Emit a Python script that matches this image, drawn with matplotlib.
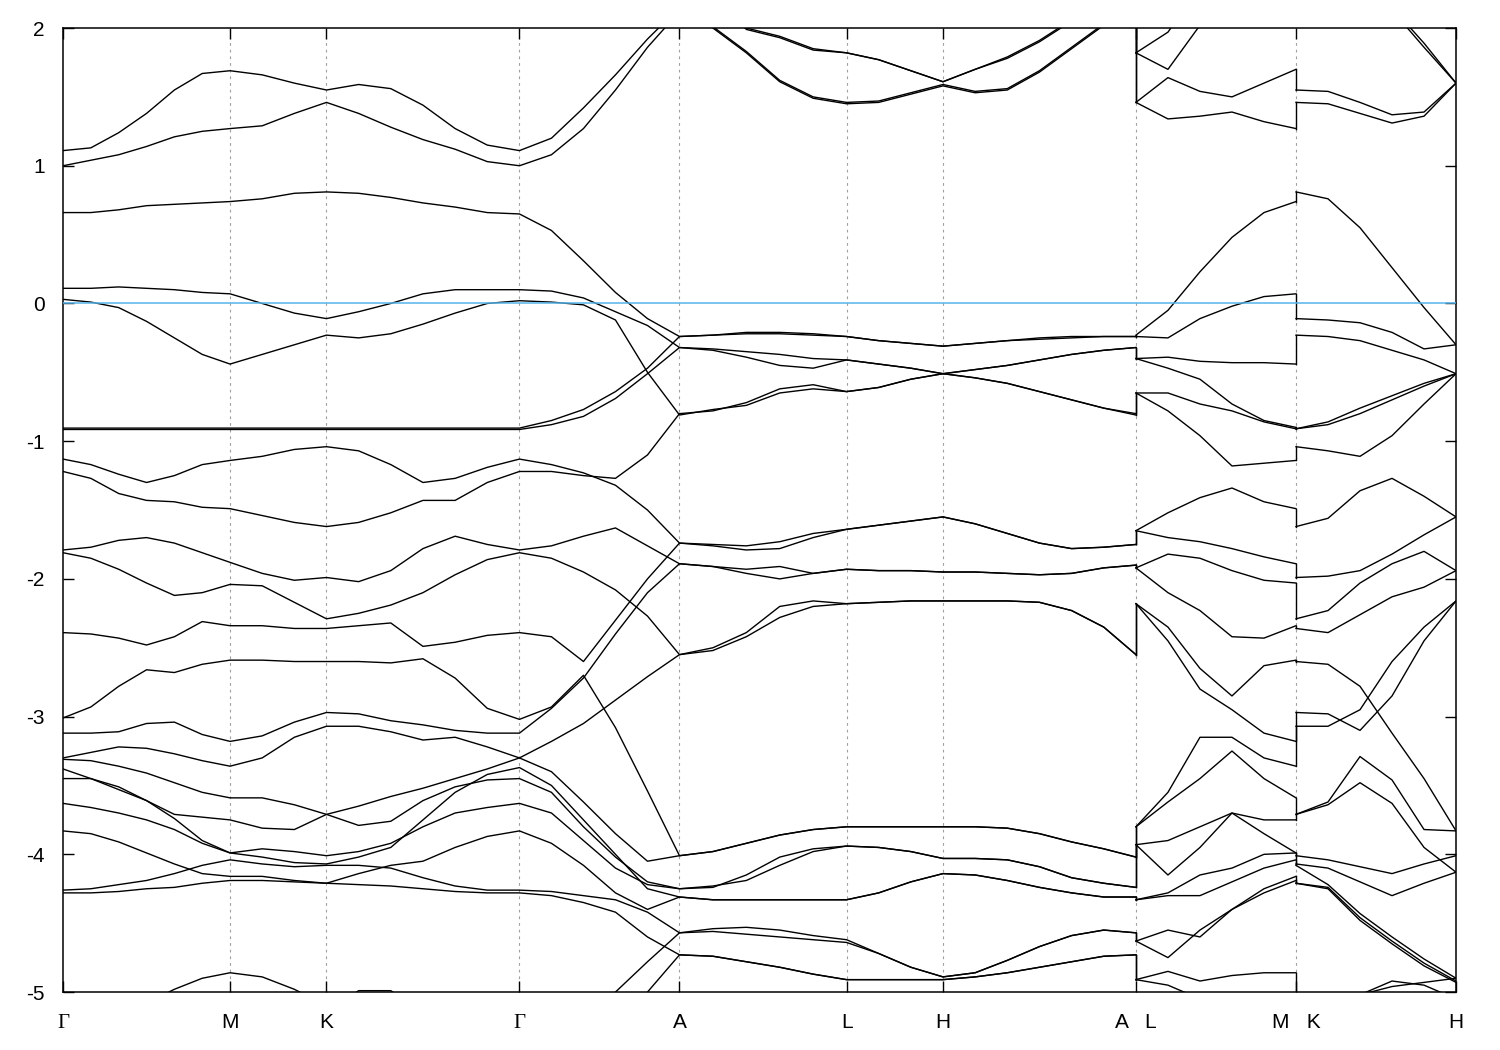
import numpy as np
import matplotlib
matplotlib.use("Agg")
import matplotlib.pyplot as plt

# k-path: segment lengths (Gamma-M = 1) and number of sampled steps per segment
seg_len = [1.0, 0.577, 1.155, 0.958, 1.0, 0.577, 1.155]   # G-M-K-G-A-L-H-A
seg_steps = [6, 3, 6, 5, 5, 3, 6]
lm_len, lm_steps = 0.958, 5     # L-M
kh_len, kh_steps = 0.958, 5     # K-H

tick_names = ["Γ", "M", "K", "Γ", "A", "L", "H", "A   L", "M   K", "H"]

# energies (eV): 35 points on G..A, then 6 on L-M, then 6 on K-H
band_T1 = [2.60, 2.60, 2.60, 2.60, 2.60, 2.60, 2.60, 2.60, 2.60, 2.60, 2.60, 2.60, 2.60, 2.60, 2.60, 2.60,
           2.60, 2.60, 2.60, 2.60, 2.50, 2.25, 1.99, 1.93, 1.84, 1.82, 1.77, 1.69, 1.61,
           1.70, 1.78, 1.90, 2.05, 2.20, 2.40,
           1.82, 1.97, 2.30, 2.50, 2.60, 2.60,
           2.60, 2.50, 2.40, 2.15, 1.89, 1.60]
band_T2 = [2.70, 2.70, 2.70, 2.70, 2.70, 2.70, 2.70, 2.70, 2.70, 2.70, 2.70, 2.70, 2.70, 2.70, 2.70, 2.70,
           2.70, 2.70, 2.70, 2.65, 2.55, 2.27, 2.00, 1.94, 1.85, 1.82, 1.77, 1.69, 1.61,
           1.70, 1.79, 1.91, 2.06, 2.21, 2.45,
           1.82, 1.70, 2.02, 2.30, 2.50, 2.65,
           2.65, 2.55, 2.40, 2.13, 1.86, 1.60]
band_U1 = [1.11, 1.13, 1.24, 1.38, 1.55, 1.67, 1.69, 1.66, 1.60, 1.55, 1.59, 1.56, 1.44, 1.27, 1.15, 1.11,
           1.20, 1.42, 1.66, 1.92, 2.15, 2.01, 1.83, 1.62, 1.50, 1.46, 1.47, 1.53, 1.59,
           1.54, 1.56, 1.69, 1.86, 2.03, 2.20,
           1.46, 1.64, 1.54, 1.50, 1.60, 1.70,
           1.55, 1.54, 1.46, 1.37, 1.39, 1.60]
band_U2 = [1.00, 1.04, 1.08, 1.14, 1.21, 1.25, 1.27, 1.29, 1.38, 1.46, 1.38, 1.28, 1.19, 1.12, 1.03, 1.00,
           1.08, 1.27, 1.55, 1.86, 2.12, 2.00, 1.82, 1.61, 1.49, 1.45, 1.46, 1.52, 1.58,
           1.53, 1.55, 1.68, 1.85, 2.02, 2.20,
           1.46, 1.34, 1.36, 1.39, 1.32, 1.27,
           1.46, 1.45, 1.38, 1.31, 1.36, 1.60]
band_U3 = [0.66, 0.66, 0.68, 0.71, 0.72, 0.73, 0.74, 0.76, 0.80, 0.81, 0.80, 0.77, 0.73, 0.70, 0.66, 0.65,
           0.53, 0.31, 0.08, -0.11, -0.24, -0.23, -0.21, -0.21, -0.22, -0.24, -0.27, -0.29, -0.31,
           -0.29, -0.27, -0.25, -0.24, -0.24, -0.24,
           -0.23, -0.05, 0.23, 0.48, 0.66, 0.74,
           0.81, 0.76, 0.55, 0.26, -0.03, -0.30]
band_U4 = [0.11, 0.11, 0.12, 0.11, 0.10, 0.08, 0.07, 0.00, -0.07, -0.11, -0.06, 0.00, 0.07, 0.10, 0.10, 0.10,
           0.09, 0.04, -0.06, -0.16, -0.32, -0.33, -0.35, -0.37, -0.40, -0.41, -0.44, -0.47, -0.51,
           -0.54, -0.58, -0.64, -0.70, -0.76, -0.81,
           -0.24, -0.25, -0.11, -0.02, 0.05, 0.07,
           -0.11, -0.12, -0.14, -0.21, -0.33, -0.30]
band_U5 = [0.03, 0.01, -0.03, -0.13, -0.25, -0.37, -0.44, -0.37, -0.30, -0.23, -0.25, -0.22, -0.15, -0.07, 0.00, 0.02,
           0.01, -0.01, -0.12, -0.50, -0.81, -0.77, -0.74, -0.65, -0.62, -0.64, -0.61, -0.55, -0.51,
           -0.48, -0.45, -0.41, -0.37, -0.34, -0.32,
           -0.40, -0.39, -0.42, -0.43, -0.43, -0.44,
           -0.23, -0.24, -0.27, -0.34, -0.41, -0.51]
band_F1 = [-0.905, -0.905, -0.905, -0.905, -0.905, -0.905, -0.905, -0.905, -0.905, -0.905, -0.905, -0.905,
           -0.905, -0.905, -0.905, -0.905,
           -0.85, -0.77, -0.64, -0.47, -0.24, -0.23, -0.22, -0.22, -0.23, -0.24, -0.27, -0.29, -0.31,
           -0.29, -0.27, -0.26, -0.25, -0.24, -0.24,
           -0.40, -0.47, -0.55, -0.73, -0.85, -0.90,
           -0.91, -0.88, -0.80, -0.70, -0.60, -0.51]
band_F2 = [-0.915, -0.915, -0.915, -0.915, -0.915, -0.915, -0.915, -0.915, -0.915, -0.915, -0.915, -0.915,
           -0.915, -0.915, -0.915, -0.915,
           -0.88, -0.82, -0.69, -0.51, -0.32, -0.34, -0.39, -0.45, -0.47, -0.41, -0.44, -0.47, -0.51,
           -0.54, -0.58, -0.64, -0.70, -0.76, -0.80,
           -0.65, -0.65, -0.73, -0.78, -0.86, -0.91,
           -0.91, -0.86, -0.76, -0.67, -0.58, -0.51]
band_08 = [-1.13, -1.17, -1.24, -1.30, -1.25, -1.17, -1.14, -1.11, -1.06, -1.04, -1.07, -1.17, -1.30, -1.27, -1.19, -1.13,
           -1.17, -1.23, -1.32, -1.50, -1.74, -1.76, -1.79, -1.78, -1.70, -1.64, -1.61, -1.58, -1.55,
           -1.60, -1.67, -1.74, -1.78, -1.77, -1.75,
           -0.65, -0.78, -0.96, -1.18, -1.16, -1.14,
           -1.04, -1.07, -1.11, -0.96, -0.73, -0.51]
band_09 = [-1.22, -1.27, -1.38, -1.43, -1.44, -1.48, -1.49, -1.54, -1.59, -1.62, -1.59, -1.52, -1.43, -1.43, -1.30, -1.22,
           -1.22, -1.25, -1.27, -1.10, -0.80, -0.78, -0.72, -0.62, -0.59, -0.64, -0.61, -0.55, -0.51,
           -0.48, -0.45, -0.41, -0.37, -0.34, -0.32,
           -1.65, -1.52, -1.41, -1.34, -1.44, -1.49,
           -1.62, -1.56, -1.36, -1.27, -1.40, -1.55]
band_10 = [-1.79, -1.77, -1.72, -1.70, -1.74, -1.81, -1.88, -1.96, -2.01, -1.99, -2.02, -1.94, -1.78, -1.69, -1.75, -1.79,
           -1.76, -1.69, -1.63, -1.76, -1.89, -1.91, -1.96, -2.00, -1.96, -1.93, -1.94, -1.94, -1.95,
           -1.95, -1.96, -1.97, -1.96, -1.92, -1.90,
           -1.65, -1.70, -1.73, -1.78, -1.84, -1.89,
           -1.99, -1.98, -1.94, -1.82, -1.68, -1.55]
band_11 = [-1.81, -1.85, -1.93, -2.03, -2.12, -2.10, -2.04, -2.05, -2.17, -2.29, -2.25, -2.19, -2.10, -1.97, -1.86, -1.81,
           -1.85, -1.95, -2.08, -2.27, -2.55, -2.52, -2.42, -2.28, -2.20, -2.18, -2.17, -2.16, -2.16,
           -2.16, -2.16, -2.17, -2.23, -2.35, -2.55,
           -1.92, -1.82, -1.85, -1.94, -2.01, -2.03,
           -2.29, -2.23, -2.03, -1.89, -1.80, -1.94]
band_12 = [-2.39, -2.40, -2.43, -2.48, -2.42, -2.31, -2.34, -2.34, -2.36, -2.36, -2.34, -2.32, -2.49, -2.46, -2.41, -2.39,
           -2.42, -2.60, -2.30, -2.00, -1.74, -1.75, -1.76, -1.73, -1.67, -1.64, -1.61, -1.58, -1.55,
           -1.60, -1.67, -1.74, -1.78, -1.77, -1.75,
           -1.92, -2.10, -2.23, -2.42, -2.43, -2.34,
           -2.36, -2.39, -2.26, -2.13, -2.06, -1.94]
band_13 = [-3.01, -2.93, -2.78, -2.66, -2.68, -2.62, -2.59, -2.59, -2.60, -2.60, -2.60, -2.61, -2.58, -2.72, -2.94, -3.02,
           -2.93, -2.70, -3.08, -3.54, -4.01, -3.98, -3.92, -3.86, -3.82, -3.80, -3.80, -3.80, -3.80,
           -3.80, -3.81, -3.85, -3.91, -3.96, -4.02,
           -2.18, -2.35, -2.65, -2.85, -2.63, -2.59,
           -2.60, -2.62, -2.78, -3.12, -3.45, -3.83]
band_14 = [-3.12, -3.12, -3.11, -3.05, -3.04, -3.13, -3.18, -3.14, -3.04, -2.97, -2.98, -3.03, -3.06, -3.10, -3.12, -3.12,
           -2.94, -2.72, -2.40, -2.10, -1.89, -1.91, -1.93, -1.91, -1.96, -1.93, -1.94, -1.94, -1.95,
           -1.95, -1.96, -1.97, -1.96, -1.92, -1.90,
           -2.18, -2.45, -2.80, -2.95, -3.12, -3.18,
           -2.97, -2.98, -3.10, -2.85, -2.45, -2.16]
band_15 = [-3.30, -3.26, -3.22, -3.23, -3.27, -3.32, -3.36, -3.30, -3.15, -3.07, -3.07, -3.11, -3.17, -3.15, -3.22, -3.30,
           -3.18, -3.05, -2.88, -2.71, -2.55, -2.50, -2.39, -2.20, -2.16, -2.18, -2.17, -2.16, -2.16,
           -2.16, -2.16, -2.17, -2.23, -2.35, -2.55,
           -3.80, -3.55, -3.15, -3.15, -3.30, -3.36,
           -3.07, -3.07, -2.95, -2.60, -2.35, -2.16]
band_16 = [-3.31, -3.32, -3.36, -3.41, -3.48, -3.55, -3.59, -3.59, -3.64, -3.71, -3.65, -3.58, -3.52, -3.45, -3.38, -3.30,
           -3.40, -3.62, -3.85, -4.05, -4.01, -3.98, -3.92, -3.86, -3.82, -3.80, -3.80, -3.80, -3.80,
           -3.80, -3.81, -3.85, -3.91, -3.96, -4.02,
           -3.80, -3.62, -3.45, -3.25, -3.45, -3.59,
           -3.71, -3.62, -3.29, -3.46, -3.82, -3.83]
band_17 = [-3.38, -3.45, -3.53, -3.61, -3.74, -3.90, -3.99, -3.96, -3.98, -4.01, -3.98, -3.92, -3.80, -3.70, -3.66, -3.63,
           -3.70, -3.90, -4.10, -4.22, -4.25, -4.23, -4.19, -4.08, -3.98, -3.94, -3.95, -3.98, -4.03,
           -4.03, -4.04, -4.09, -4.17, -4.21, -4.24,
           -3.93, -4.15, -3.95, -3.70, -3.75, -3.75,
           -4.01, -4.04, -4.09, -4.14, -4.07, -4.01]
band_18 = [-3.45, -3.45, -3.51, -3.61, -3.71, -3.73, -3.75, -3.81, -3.82, -3.71, -3.79, -3.76, -3.61, -3.51, -3.46, -3.45,
           -3.55, -3.80, -4.02, -4.20, -4.25, -4.24, -4.15, -4.02, -3.96, -3.94, -3.95, -3.98, -4.03,
           -4.03, -4.04, -4.09, -4.17, -4.21, -4.24,
           -3.93, -3.90, -3.80, -3.70, -3.85, -3.99,
           -3.71, -3.64, -3.48, -3.63, -3.95, -4.13]
band_19 = [-3.63, -3.66, -3.70, -3.75, -3.82, -3.92, -3.99, -4.02, -4.06, -4.07, -4.02, -3.95, -3.75, -3.55, -3.42, -3.37,
           -3.50, -3.75, -4.00, -4.25, -4.31, -4.33, -4.33, -4.33, -4.33, -4.33, -4.28, -4.20, -4.14,
           -4.15, -4.19, -4.24, -4.28, -4.31, -4.31,
           -4.33, -4.28, -4.15, -4.10, -4.00, -3.99,
           -4.07, -4.10, -4.20, -4.30, -4.21, -4.13]
band_20 = [-3.83, -3.85, -3.91, -3.99, -4.07, -4.14, -4.16, -4.16, -4.19, -4.21, -4.14, -4.08, -4.05, -3.95, -3.87, -3.83,
           -3.92, -4.08, -4.28, -4.40, -4.31, -4.33, -4.33, -4.33, -4.33, -4.33, -4.28, -4.20, -4.14,
           -4.15, -4.19, -4.24, -4.28, -4.31, -4.31,
           -4.33, -4.30, -4.30, -4.20, -4.10, -4.04,
           -4.21, -4.24, -4.46, -4.63, -4.79, -4.92]
band_21 = [-4.26, -4.25, -4.22, -4.19, -4.14, -4.08, -4.04, -4.07, -4.09, -4.08, -4.08, -4.10, -4.17, -4.23, -4.26, -4.26,
           -4.27, -4.30, -4.33, -4.42, -4.57, -4.54, -4.53, -4.55, -4.59, -4.62, -4.72, -4.82, -4.89,
           -4.86, -4.77, -4.67, -4.59, -4.55, -4.57,
           -4.63, -4.75, -4.55, -4.40, -4.25, -4.16,
           -4.08, -4.22, -4.43, -4.60, -4.76, -4.90]
band_22 = [-4.28, -4.28, -4.27, -4.25, -4.24, -4.21, -4.19, -4.19, -4.20, -4.21, -4.22, -4.23, -4.25, -4.27, -4.28, -4.28,
           -4.30, -4.35, -4.42, -4.60, -4.73, -4.74, -4.78, -4.82, -4.87, -4.91, -4.91, -4.91, -4.91,
           -4.89, -4.86, -4.82, -4.78, -4.74, -4.73,
           -4.63, -4.55, -4.60, -4.40, -4.28, -4.19,
           -4.21, -4.25, -4.48, -4.65, -4.81, -4.93]
band_23 = [-5.50, -5.35, -5.20, -5.08, -4.98, -4.90, -4.86, -4.89, -4.98, -5.10, -5.20, -5.30, -5.40, -5.50, -5.55, -5.60,
           -5.50, -5.25, -5.00, -4.78, -4.57, -4.56, -4.58, -4.60, -4.62, -4.64, -4.72, -4.82, -4.89,
           -4.86, -4.77, -4.67, -4.59, -4.55, -4.57,
           -4.91, -4.85, -4.92, -4.88, -4.86, -4.86,
           -5.10, -5.15, -5.02, -4.96, -4.93, -4.90]
band_24 = [-5.80, -5.75, -5.70, -5.60, -5.50, -5.40, -5.35, -5.25, -5.18, -5.15, -4.99, -4.99, -5.15, -5.40, -5.60, -5.70,
           -5.60, -5.45, -5.25, -5.00, -4.73, -4.74, -4.78, -4.82, -4.87, -4.91, -4.91, -4.91, -4.91,
           -4.89, -4.86, -4.82, -4.78, -4.74, -4.73,
           -4.91, -4.95, -5.05, -5.20, -5.30, -5.30,
           -5.15, -5.10, -5.02, -4.92, -4.95, -5.05]

bands = np.array([band_T1, band_T2, band_U1, band_U2, band_U3, band_U4, band_U5, band_F1, band_F2,
                  band_08, band_09, band_10, band_11, band_12, band_13, band_14, band_15, band_16,
                  band_17, band_18, band_19, band_20, band_21, band_22, band_23, band_24])

# k coordinates
k_main = [0.0]
for L, n in zip(seg_len, seg_steps):
    k_main += list(np.linspace(k_main[-1], k_main[-1] + L, n + 1)[1:])
k_main = np.array(k_main)
k_lm = np.linspace(k_main[-1], k_main[-1] + lm_len, lm_steps + 1)
k_kh = np.linspace(k_lm[-1], k_lm[-1] + kh_len, kh_steps + 1)
n_main, n_lm = len(k_main), len(k_lm)

ticks = list(np.cumsum([0.0] + seg_len)) + [k_lm[-1], k_kh[-1]]

fig = plt.figure(figsize=(15, 10.5), dpi=100)
ax = fig.add_axes([0.042, 0.0552, 0.9287, 0.9181])

for b in bands:
    ax.plot(k_main, b[:n_main], color="black", lw=1.0)
    ax.plot(k_lm, b[n_main:n_main + n_lm], color="black", lw=1.0)
    ax.plot(k_kh, b[n_main + n_lm:], color="black", lw=1.0)

# jumps at the path breaks (A|L and M|K), bands joined by energy order
for i0, i1, x in [(n_main - 1, n_main, k_main[-1]), (n_main + n_lm - 1, n_main + n_lm, k_lm[-1])]:
    for e0, e1 in zip(np.sort(bands[:, i0]), np.sort(bands[:, i1])):
        ax.plot([x, x], [e0, e1], color="black", lw=1.0)

for t in ticks[1:-1]:
    ax.axvline(t, color="#a0a0a0", lw=0.8, ls=(0, (2.5, 3.5)), zorder=0)
ax.axhline(0, color="#56b4e9", lw=1.1, zorder=3)

ax.set_xlim(0, ticks[-1])
ax.set_ylim(-5, 2)
ax.set_xticks(ticks)
ax.set_xticklabels(tick_names, fontsize=15, family="Liberation Sans")
ax.set_yticks(range(-5, 3))
ax.set_yticklabels([str(v) for v in range(-5, 3)], fontsize=15, family="Liberation Sans")
for lab in ax.get_xticklabels():
    lab.set_verticalalignment("baseline")
    if lab.get_text() == "Γ":
        lab.set_family("Liberation Serif")
ax.tick_params(direction="in", length=8, width=1.0, top=True, right=True)
ax.tick_params(axis="x", pad=26)
ax.tick_params(axis="y", pad=13)
for s in ax.spines.values():
    s.set_linewidth(1.1)

fig.savefig("out.png", dpi=100)
